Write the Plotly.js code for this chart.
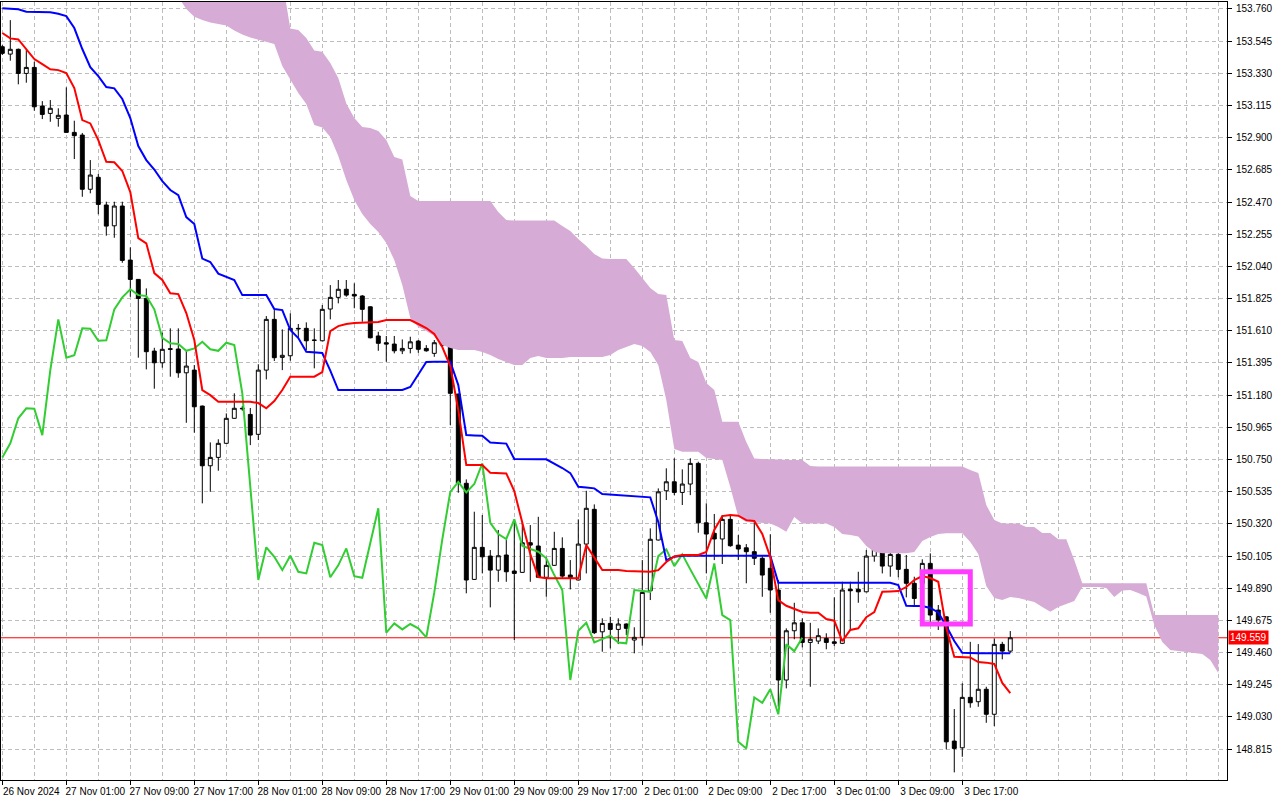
<!DOCTYPE html>
<html>
<head>
<meta charset="utf-8">
<script src="https://cdn.plot.ly/plotly-3.0.1.min.js"></script>
<style>
html,body{margin:0;padding:0;background:#ffffff;}
#chart{width:1280px;height:800px;}
</style>
</head>
<body>
<div id="chart"></div>
<script>
// ---- H1 candles (bar index 0 = 26 Nov 2024 17:00) ----
const opens = [
153.507,153.458,153.490,153.329,153.369,153.111,153.062,153.029,153.051,152.935,
152.917,152.555,152.635,152.450,152.311,152.443,152.082,151.953,151.826,151.474,
151.396,151.490,151.488,151.329,151.347,151.107,150.708,150.764,150.858,151.025,
151.092,151.051,150.918,151.347,151.686,151.432,151.443,151.626,151.626,151.548,
151.543,151.755,151.833,151.887,151.853,151.842,151.770,151.575,151.530,151.521,
151.476,151.492,151.541,151.492,151.459,151.530,151.508,151.187,150.591,149.949,
150.163,150.105,150.011,150.112,150.005,149.996,150.194,150.172,149.963,150.043,
150.156,149.978,149.945,150.185,150.417,149.599,149.655,149.615,149.651,149.544,
149.562,149.873,150.212,150.541,150.601,150.530,150.586,150.724,150.327,150.257,
150.219,150.350,150.178,150.160,150.134,150.090,150.023,149.878,149.277,149.606,
149.659,149.528,149.537,149.555,149.532,149.522,149.883,149.883,149.866,150.105,
150.150,150.038,150.116,150.016,149.923,149.923,150.056,149.744,149.699,148.869,
148.824,149.161,149.132,149.215,149.048,149.515,149.470];
const highs = [
153.518,153.685,153.495,153.485,153.407,153.144,153.151,153.096,153.236,153.013,
152.931,152.750,152.657,152.472,152.472,152.472,152.167,151.955,151.893,151.496,
151.597,151.626,151.626,151.481,151.381,151.110,150.864,150.885,151.058,151.192,
151.107,151.094,151.386,151.708,151.748,151.619,151.726,151.655,151.666,151.626,
151.782,151.915,151.949,151.949,151.927,151.848,151.773,151.603,151.575,151.575,
151.552,151.570,151.548,151.514,151.548,151.548,151.526,151.190,150.617,150.401,
150.379,150.145,150.279,150.212,150.345,150.327,150.312,150.367,150.100,150.267,
150.230,150.078,150.350,150.541,150.450,149.689,149.699,149.689,149.655,149.629,
150.078,150.290,150.557,150.691,150.758,150.684,150.758,150.735,150.457,150.386,
150.379,150.379,150.245,150.185,150.357,150.112,150.250,149.945,149.622,149.793,
149.689,149.659,149.622,149.589,149.829,149.933,149.933,150.000,150.145,150.223,
150.245,150.167,150.190,150.112,149.967,150.083,150.123,149.778,149.702,149.083,
149.255,149.532,149.517,149.232,149.555,149.532,149.604];
const lows = [
153.452,153.414,153.256,153.267,153.080,153.024,153.006,152.973,152.933,152.757,
152.505,152.528,152.388,152.245,152.231,152.064,151.837,151.430,151.352,151.223,
151.363,151.303,151.296,150.995,150.929,150.457,150.534,150.675,150.855,151.022,
151.076,150.846,150.880,151.285,151.408,151.347,151.410,151.561,151.481,151.359,
151.540,151.686,151.793,151.837,151.760,151.670,151.559,151.476,151.403,151.459,
151.454,151.459,151.463,151.470,151.436,151.501,150.980,150.528,149.856,149.945,
149.989,149.762,149.933,149.933,149.544,149.993,149.933,149.960,149.833,150.040,
149.956,149.882,149.942,149.989,149.584,149.466,149.488,149.517,149.577,149.455,
149.506,149.811,150.209,150.479,150.512,150.446,150.512,150.261,149.989,150.078,
150.052,150.167,150.078,149.923,150.045,149.833,149.726,149.098,149.221,149.549,
149.495,149.232,149.517,149.482,149.504,149.517,149.611,149.793,149.863,150.067,
149.989,149.967,149.963,149.829,149.766,149.856,149.655,149.611,148.814,148.660,
148.764,149.092,149.098,148.991,148.969,149.415,149.459];
const closes = [
153.463,153.490,153.329,153.369,153.106,153.055,153.096,153.049,152.935,152.913,
152.555,152.650,152.454,152.309,152.443,152.080,151.953,151.826,151.470,151.396,
151.486,151.486,151.329,151.374,151.102,150.708,150.764,150.858,151.025,151.092,
151.089,150.913,151.347,151.686,151.430,151.446,151.626,151.623,151.543,151.546,
151.753,151.833,151.887,151.848,151.842,151.753,151.563,151.526,151.521,151.476,
151.492,151.536,151.486,151.476,151.530,151.514,151.192,150.591,149.945,150.163,
150.100,150.011,150.107,150.000,149.989,150.194,150.178,149.963,150.043,150.156,
149.971,149.960,150.185,150.424,149.593,149.655,149.615,149.651,149.622,149.562,
149.862,150.217,150.534,150.601,150.530,150.586,150.724,150.327,150.252,150.219,
150.350,150.174,150.152,150.134,150.090,149.978,149.878,149.277,149.606,149.659,
149.528,149.549,149.573,149.528,149.522,149.878,149.873,149.866,150.105,150.150,
150.038,150.116,150.016,149.923,149.822,150.056,149.711,149.677,148.864,148.820,
149.161,149.125,149.215,149.048,149.515,149.470,149.559];

// ---- Ichimoku lines ----
const tenkan = [
153.599,153.563,153.556,153.492,153.425,153.391,153.356,153.351,153.331,153.231,
153.017,152.995,152.884,152.739,152.735,152.677,152.536,152.229,152.194,151.995,
151.949,151.860,151.855,151.728,151.548,151.214,151.180,151.136,151.136,151.136,
151.136,151.136,151.127,151.092,151.140,151.214,151.303,151.303,151.303,151.303,
151.334,151.608,151.641,151.655,151.661,151.663,151.668,151.668,151.681,151.681,
151.681,151.681,151.655,151.628,151.588,151.501,151.374,151.080,150.713,150.713,
150.713,150.661,150.657,150.657,150.539,150.325,150.118,149.965,149.956,149.956,
149.956,149.956,149.956,150.178,150.098,150.011,150.011,150.011,150.005,150.005,
150.005,150.000,150.011,150.065,150.102,150.112,150.112,150.112,150.132,150.279,
150.372,150.379,150.375,150.345,150.339,150.252,150.098,149.811,149.773,149.751,
149.731,149.727,149.726,149.684,149.673,149.537,149.611,149.622,149.697,149.731,
149.866,149.868,149.871,149.898,149.945,149.971,149.958,149.933,149.624,149.432,
149.430,149.428,149.397,149.393,149.384,149.257,149.190];
const kijun = [
153.764,153.761,153.758,153.741,153.739,153.738,153.737,153.727,153.712,153.632,
153.492,153.371,153.311,153.238,153.229,153.158,153.031,152.844,152.750,152.687,
152.610,152.550,152.516,152.369,152.323,152.092,152.069,151.992,151.969,151.949,
151.848,151.848,151.848,151.848,151.755,151.748,151.615,151.561,151.470,151.468,
151.461,151.344,151.214,151.214,151.214,151.214,151.214,151.214,151.214,151.214,
151.214,151.234,151.314,151.401,151.403,151.403,151.403,151.247,150.913,150.911,
150.908,150.864,150.860,150.856,150.753,150.751,150.751,150.751,150.751,150.723,
150.693,150.659,150.568,150.563,150.557,150.519,150.516,150.512,150.510,150.507,
150.502,150.497,150.332,150.078,150.101,150.107,150.107,150.107,150.107,150.107,
150.107,150.107,150.107,150.107,150.107,150.107,150.107,149.927,149.927,149.927,
149.927,149.927,149.927,149.927,149.927,149.927,149.927,149.927,149.927,149.927,
149.927,149.927,149.911,149.773,149.772,149.771,149.758,149.728,149.637,149.537,
149.459,149.455,149.455,149.455,149.455,149.455,149.455];
// Chikou span: drawn from bar 0 to bar 100
const chikou = [
150.764,150.858,151.025,151.092,151.089,150.913,151.347,151.686,151.430,151.446,
151.626,151.623,151.543,151.546,151.753,151.833,151.887,151.848,151.842,151.753,
151.563,151.526,151.521,151.476,151.492,151.536,151.486,151.476,151.530,151.514,
151.192,150.591,149.945,150.163,150.100,150.011,150.107,150.000,149.989,150.194,
150.178,149.963,150.043,150.156,149.971,149.960,150.185,150.424,149.593,149.655,
149.615,149.651,149.622,149.562,149.862,150.217,150.534,150.601,150.530,150.586,
150.724,150.327,150.252,150.219,150.350,150.174,150.152,150.134,150.090,149.978,
149.878,149.277,149.606,149.659,149.528,149.549,149.573,149.528,149.522,149.878,
149.873,149.866,150.105,150.150,150.038,150.116,150.016,149.923,149.822,150.056,
149.711,149.677,148.864,148.820,149.161,149.125,149.215,149.048,149.515,149.470,
149.559];
// Cloud spans: from bar 22 to bar 152 (26 bars ahead of the last candle)
const cloudFirstBar = 22;
const senkouA = [
153.839,153.759,153.707,153.685,153.669,153.659,153.649,153.615,153.589,153.569,
153.555,153.538,153.525,153.378,153.285,153.198,153.124,152.984,152.967,152.904,
152.777,152.617,152.483,152.390,152.323,152.269,152.196,152.082,151.915,151.695,
151.635,151.608,151.575,151.514,151.494,151.481,151.481,151.481,151.468,151.448,
151.421,151.401,151.381,151.381,151.428,151.441,151.428,151.428,151.428,151.434,
151.434,151.434,151.434,151.434,151.448,151.481,151.501,151.521,151.508,151.468,
151.381,151.147,150.820,150.802,150.802,150.802,150.760,150.753,150.746,150.566,
150.367,150.332,150.329,150.325,150.323,150.299,150.267,150.365,150.323,150.323,
150.323,150.323,150.299,150.252,150.245,150.235,150.172,150.132,150.123,150.123,
150.123,150.123,150.132,150.205,150.232,150.252,150.257,150.257,150.257,150.198,
150.118,149.905,149.824,149.811,149.831,149.824,149.811,149.798,149.764,149.733,
149.764,149.784,149.804,149.898,149.898,149.898,149.891,149.831,149.875,149.878,
149.858,149.835,149.644,149.530,149.477,149.470,149.466,149.460,149.450,149.410,
149.323];
const senkouB = [
153.953,153.953,153.953,153.953,153.953,153.953,153.953,153.953,153.953,153.953,
153.953,153.953,153.953,153.953,153.629,153.619,153.565,153.482,153.474,153.398,
153.298,153.128,153.031,152.971,152.964,152.944,152.884,152.770,152.754,152.510,
152.476,152.476,152.476,152.476,152.476,152.476,152.476,152.476,152.476,152.476,
152.403,152.349,152.346,152.346,152.346,152.346,152.346,152.346,152.309,152.276,
152.223,152.176,152.122,152.092,152.089,152.089,152.089,152.029,151.962,151.895,
151.855,151.848,151.548,151.541,151.428,151.401,151.261,151.214,151.002,151.002,
151.002,150.866,150.756,150.753,150.750,150.750,150.746,150.746,150.746,150.706,
150.703,150.703,150.703,150.703,150.703,150.703,150.703,150.703,150.703,150.703,
150.703,150.703,150.703,150.703,150.703,150.703,150.703,150.703,150.703,150.679,
150.659,150.446,150.345,150.322,150.322,150.322,150.299,150.299,150.259,150.259,
150.218,150.218,150.078,149.923,149.923,149.923,149.923,149.923,149.923,149.923,
149.923,149.923,149.711,149.711,149.711,149.711,149.711,149.711,149.711,149.711,
149.711];

// ---- axis text ----
const xTickBars = [0,8,16,24,32,40,48,56,64,72,80,88,96,104,112,120];
const xTickLabels = ["26 Nov 2024","27 Nov 01:00","27 Nov 09:00","27 Nov 17:00",
  "28 Nov 01:00","28 Nov 09:00","28 Nov 17:00","29 Nov 01:00","29 Nov 09:00",
  "29 Nov 17:00","2 Dec 01:00","2 Dec 09:00","2 Dec 17:00","3 Dec 01:00",
  "3 Dec 09:00","3 Dec 17:00"];
const priceTicks = [148.815,149.030,149.245,149.460,149.675,149.890,150.105,150.320,
  150.535,150.750,150.965,151.180,151.395,151.610,151.825,152.040,152.255,152.470,
  152.685,152.900,153.115,153.330,153.545,153.760];
const lastPrice = 149.559;
// highlighted region (bars and price bounds)
const boxBars = [115.0, 121.0];
const boxPrices = [149.651, 150.000];

// ---- build ----
const barIdx = opens.map((_, i) => i);
const chikouIdx = chikou.map((_, i) => i);
const cloudIdx = senkouA.map((_, i) => i + cloudFirstBar);
const lastCloudBar = cloudIdx[cloudIdx.length - 1];

const gridColor = '#bcbcbc';
const gridDash = '4px,3px';
const minorVals = [];
for (let v = 0; v <= lastCloudBar; v += 4) { if (xTickBars.indexOf(v) < 0) minorVals.push(v); }

const traces = [
  {type:'scatter', mode:'lines', x:cloudIdx, y:senkouB, line:{width:0, color:'rgba(0,0,0,0)'},
   hoverinfo:'skip', showlegend:false},
  {type:'scatter', mode:'lines', x:cloudIdx, y:senkouA, line:{width:0, color:'rgba(0,0,0,0)'},
   fill:'tonexty', fillcolor:'rgb(214,172,214)', hoverinfo:'skip', showlegend:false},
  {type:'candlestick', x:barIdx, open:opens, high:highs, low:lows, close:closes,
   increasing:{line:{color:'#000000', width:1}, fillcolor:'#ffffff'},
   decreasing:{line:{color:'#000000', width:1}, fillcolor:'#000000'},
   whiskerwidth:0, hoverinfo:'skip', showlegend:false},
  {type:'scatter', mode:'lines', x:chikouIdx, y:chikou, line:{color:'#32cd32', width:2},
   hoverinfo:'skip', showlegend:false},
  {type:'scatter', mode:'lines', x:barIdx, y:kijun, line:{color:'#0000ff', width:2},
   hoverinfo:'skip', showlegend:false},
  {type:'scatter', mode:'lines', x:barIdx, y:tenkan, line:{color:'#ff0000', width:2},
   hoverinfo:'skip', showlegend:false}
];

const font = {family:'"Liberation Sans", Arial, sans-serif', size:10, color:'#000000'};

const layout = {
  width:1280, height:800, autosize:false,
  margin:{l:1, r:53, t:2, b:20, pad:0},
  paper_bgcolor:'#ffffff', plot_bgcolor:'#ffffff',
  showlegend:false, font:font, dragmode:false,
  xaxis:{
    range:[-0.1625, 153.09], type:'linear',
    tickmode:'array', tickvals:xTickBars, ticktext:xTickLabels,
    ticks:'outside', ticklen:4, tickwidth:1, tickcolor:'#000000',
    ticklabelshift:29, ticklabelstandoff:-2,
    tickfont:font,
    showgrid:true, gridcolor:gridColor, gridwidth:1, griddash:gridDash,
    minor:{tickmode:'array', tickvals:minorVals, showgrid:true, gridcolor:gridColor,
           gridwidth:1, griddash:gridDash, ticks:''},
    showline:true, linecolor:'#000000', linewidth:1, mirror:true,
    zeroline:false, rangeslider:{visible:false}, fixedrange:true
  },
  yaxis:{
    side:'right', range:[148.609, 153.806], type:'linear',
    tickmode:'array', tickvals:priceTicks, ticktext:priceTicks.map(v => v.toFixed(3)),
    ticks:'outside', ticklen:4, tickwidth:1, tickcolor:'#000000',
    ticklabelstandoff:2, tickfont:font,
    showgrid:true, gridcolor:gridColor, gridwidth:1, griddash:gridDash,
    showline:true, linecolor:'#000000', linewidth:1, mirror:true,
    zeroline:false, fixedrange:true
  },
  shapes:[
    {type:'line', xref:'paper', yref:'y', x0:0, x1:1, y0:lastPrice, y1:lastPrice,
     line:{color:'#ff0000', width:1}, layer:'below'},
    {type:'rect', xref:'x', yref:'y', x0:boxBars[0], x1:boxBars[1], y0:boxPrices[0], y1:boxPrices[1],
     line:{color:'#ff3cff', width:5}, fillcolor:'rgba(0,0,0,0)', layer:'above'}
  ],
  annotations:[
    {xref:'paper', yref:'y', x:1, y:lastPrice, xanchor:'left', yanchor:'middle', xshift:1,
     text:lastPrice.toFixed(3), showarrow:false, bgcolor:'#ff0000', borderpad:1,
     font:{family:font.family, size:10, color:'#ffffff'}}
  ]
};

Plotly.newPlot('chart', traces, layout, {displayModeBar:false, staticPlot:true});
</script>
</body>
</html>
